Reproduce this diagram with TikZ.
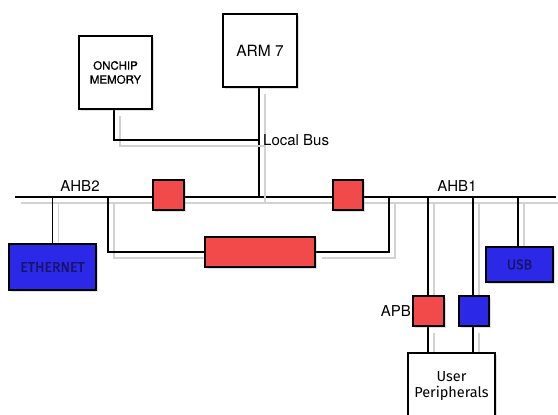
\documentclass[tikz,border=0pt]{standalone}
\usepackage{fontspec}
\setmainfont{TeX Gyre Heros}
\newfontfamily\lfont{Fira Sans}
\newfontfamily\lfontb[FakeBold=1.2]{Fira Sans}
\newfontfamily\hfontb[FakeBold=0.8]{TeX Gyre Heros}
\usetikzlibrary{shadows,backgrounds}
\definecolor{bred}{RGB}{242,74,74}
\definecolor{bblue}{RGB}{44,40,232}
\definecolor{btext}{RGB}{22,20,100}
\definecolor{shgray}{RGB}{210,210,210}
\tikzset{
  box/.style={draw=black, line width=1.6pt, fill=white, minimum width=#1, inner sep=0pt,
    drop shadow={opacity=0.25, shadow xshift=2pt, shadow yshift=-2pt}},
  redbox/.style={box=#1, fill=bred},
  bluebox/.style={box=#1, fill=bblue, font=\lfontb\fontsize{14}{16}\selectfont, text=btext},
  wire/.style={line width=1.6pt, black,
    preaction={draw=shgray, line width=1.4pt, transform canvas={shift={(6pt,-6pt)}}}},
  lbl/.style={font=\fontsize{15}{17}\selectfont, inner sep=0pt}
}
\begin{document}
\begin{tikzpicture}[x=1pt,y=-1pt]
\useasboundingbox (0,0) rectangle (558,415);
% nodes
\node[box=73pt, minimum height=73pt, align=center, font=\hfontb\fontsize{11.5}{14}\selectfont] (mem) at (115.5,72.5) {ONCHIP\\MEMORY};
\node[box=74pt, minimum height=73pt, font=\fontsize{15.5}{17}\selectfont, text depth=0pt, anchor=center] (arm) at (260,50.5) {ARM 7};
\node[redbox=31pt, minimum height=30pt] (r1) at (168.5,195) {};
\node[redbox=30pt, minimum height=30pt] (r2) at (348,195) {};
\node[redbox=110pt, minimum height=30pt] (big) at (260,252) {};
\node[bluebox=87pt, minimum height=46pt] (eth) at (52.5,267) {ETHERNET};
\node[bluebox=67pt, minimum height=35pt] (usb) at (519.5,264.5) {USB};
\node[redbox=31pt, minimum height=30pt] (apb) at (428.5,311) {};
\node[bluebox=30pt, minimum height=30pt] (blu) at (474,311) {};
\node[box=87pt, minimum height=67pt, align=center, font=\lfont\fontsize{14.5}{16}\selectfont] (user) at (451.5,386.5) {User\\Peripherals};
% labels
\node[lbl] (ahb2) at (80,186) {AHB2};
\node[lbl] (ahb1) at (457,186) {AHB1};
\node[lbl, anchor=west] (lbus) at (263,140) {Local Bus};
\node[lbl, anchor=east] (apbl) at (411,311) {APB};
% coordinates
\coordinate (busL) at (15,197);
\coordinate (busR) at (556,197);
\coordinate (lb) at (259,140);
\coordinate (armbus) at (259,197);
\coordinate (t1) at (108,197);
\coordinate (t2) at (389,197);
\coordinate (t3) at (428,197);
\coordinate (t4) at (473,197);
\coordinate (t5) at (518,197);
\begin{scope}[on background layer]
\draw[wire] (busL) -- (busR);
\draw[wire] (arm.south -| lb) -- (armbus);
\draw[wire] ([xshift=-1.5pt]mem.south) |- (lb);
\draw[wire] (eth.north) -- (eth.north |- busL);
\draw[wire] (t1) |- (big.west);
\draw[wire] (big.east) -| (t2);
\draw[wire] (t3) -- (t3 |- apb.north);
\draw[wire] (t3 |- apb.south) -- (t3 |- user.north);
\draw[wire] (t4) -- (t4 |- blu.north);
\draw[wire] (t4 |- blu.south) -- (t4 |- user.north);
\draw[wire] (t5) -- (t5 |- usb.north);
\end{scope}
\end{tikzpicture}
\end{document}
